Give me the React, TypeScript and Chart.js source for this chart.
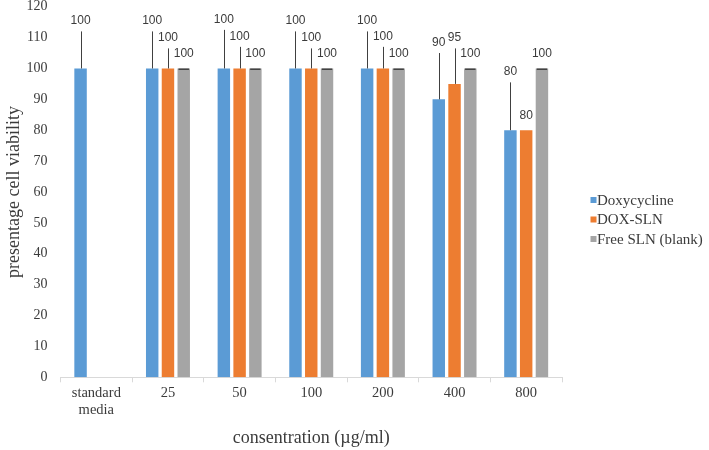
import React, { useEffect, useRef } from "react";
import { Chart, registerables } from "chart.js";

Chart.register(...registerables);

// ---- data ----
const categories: (string | string[])[] = [["standard", "media"], "25", "50", "100", "200", "400", "800"];
const seriesNames = ["Doxycycline", "DOX-SLN", "Free SLN (blank)"];
const seriesColors = ["#5B9BD5", "#ED7D31", "#A5A5A5"];
const doxycycline = [100, 100, 100, 100, 100, 90, 80];
const doxSln = [null, 100, 100, 100, 100, 95, 80];
const freeSln = [null, 100, 100, 100, 100, 100, 100];
// upper error bars
const doxycyclineErr = [12, 12, 12.5, 12, 12, 15, 15.5];
const doxSlnErr = [null, 6.5, 7, 6.5, 7, 11.5, null];
const freeSlnErr = [null, 0, 0, 0, 0, 0, 0];
const yMin = 0;
const yMax = 120;
const yStep = 10;
const xTitle = "consentration (\u00b5g/ml)";
const yTitle = "presentage cell viability";

const errors = [doxycyclineErr, doxSlnErr, freeSlnErr];
const SERIF = "'Liberation Serif', 'Times New Roman', serif";
const SANS = "'Liberation Sans', Arial, sans-serif";
const TEXT = "#3b3b3b";

const errLabelPlugin = {
  id: "errLabels",
  afterDatasetsDraw(chart: any) {
    const ctx = chart.ctx;
    const ys = chart.scales.y;
    chart.data.datasets.forEach((ds: any, di: number) => {
      const meta = chart.getDatasetMeta(di);
      const errs = errors[di];
      meta.data.forEach((bar: any, i: number) => {
        const v = ds.data[i];
        if (v == null) return;
        const { x, width } = bar.getProps(["x", "width"], true);
        const top = ys.getPixelForValue(v);
        const err = errs[i];
        let labelY = top - 14.5;
        ctx.save();
        ctx.strokeStyle = "#404040";
        ctx.lineWidth = 1;
        if (err != null) {
          if (err > 0) {
            const et = ys.getPixelForValue(v + err);
            ctx.beginPath();
            ctx.moveTo(Math.round(x) + 0.5, top);
            ctx.lineTo(Math.round(x) + 0.5, et);
            ctx.stroke();
            labelY = et - 10.5;
          } else {
            ctx.lineWidth = 1.5;
            ctx.beginPath();
            ctx.moveTo(x - width / 2 + 1, top + 0.75);
            ctx.lineTo(x + width / 2 - 1, top + 0.75);
            ctx.stroke();
          }
        }
        ctx.fillStyle = TEXT;
        ctx.font = `12px ${SANS}`;
        ctx.textAlign = "center";
        ctx.textBaseline = "middle";
        ctx.fillText(String(v), x, labelY);
        ctx.restore();
      });
    });
  },
};

const legendPlugin = {
  id: "sideLegend",
  afterDraw(chart: any) {
    const ctx = chart.ctx;
    const x0 = 590.5;
    const yc0 = 200;
    const gap = 19.5;
    ctx.save();
    chart.data.datasets.forEach((ds: any, i: number) => {
      const yc = yc0 + i * gap;
      ctx.fillStyle = ds.backgroundColor;
      ctx.fillRect(x0, yc - 3, 6, 6);
      ctx.fillStyle = TEXT;
      ctx.font = `15px ${SERIF}`;
      ctx.textAlign = "left";
      ctx.textBaseline = "middle";
      ctx.fillText(ds.label, x0 + 6.5, yc + 1);
    });
    ctx.restore();
  },
};

export default function App() {
  const ref = useRef<HTMLCanvasElement | null>(null);
  useEffect(() => {
    document.body.style.margin = "0";
    const canvas = ref.current!;
    const chart = new Chart(canvas, {
      type: "bar",
      data: {
        labels: categories as any,
        datasets: [doxycycline, doxSln, freeSln].map((d, i) => ({
          label: seriesNames[i],
          data: d as any,
          backgroundColor: seriesColors[i],
          borderWidth: 0,
          categoryPercentage: 0.66,
          barPercentage: 0.79,
        })),
      },
      options: {
        responsive: false,
        animation: false,
        layout: { padding: { top: 6.7, right: 147, bottom: 1, left: 0 } },
        plugins: {
          legend: { display: false },
          tooltip: { enabled: false },
        },
        scales: {
          x: {
            grid: {
              display: true,
              drawOnChartArea: false,
              drawTicks: true,
              tickLength: 5,
              offset: true,
              color: "#d9d9d9",
            },
            border: { display: true, color: "#d9d9d9", width: 1 },
            ticks: {
              color: TEXT,
              font: { family: SERIF, size: 14.5, lineHeight: 1.2 },
              padding: 2,
              maxRotation: 0,
              autoSkip: false,
            },
            title: {
              display: true,
              text: xTitle,
              color: TEXT,
              font: { family: SERIF, size: 18 },
              padding: 0,
            },
            afterFit(scale: any) {
              scale.height = 450 - 1 - 377.3;
            },
          },
          y: {
            min: yMin,
            max: yMax,
            grid: { display: false, drawTicks: false },
            border: { display: false },
            ticks: {
              stepSize: yStep,
              color: TEXT,
              font: { family: SERIF, size: 14 },
              padding: 13,
            },
            title: {
              display: true,
              text: yTitle,
              color: TEXT,
              font: { family: SERIF, size: 18 },
              padding: { top: 3, bottom: 0 },
            },
            afterFit(scale: any) {
              scale.width = 60.5;
              scale.paddingTop = 0;
              scale.paddingBottom = 0;
            },
          },
        },
      },
      plugins: [errLabelPlugin, legendPlugin],
    });
    return () => chart.destroy();
  }, []);
  return (
    <div style={{ width: 709, height: 450, background: "#fff" }}>
      <canvas ref={ref} width={709} height={450} style={{ display: "block" }} />
    </div>
  );
}
